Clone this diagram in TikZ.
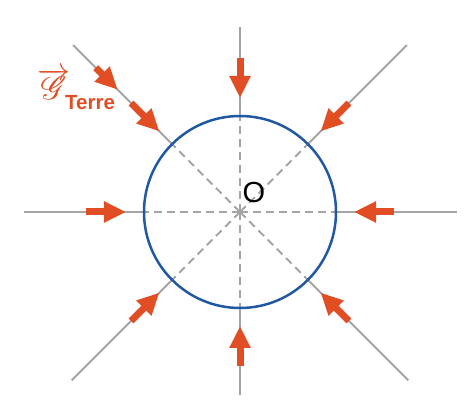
\documentclass[tikz,border=0pt]{standalone}
\usepackage{fontspec}
\setmainfont{Liberation Sans}
\usepackage{mathrsfs}
\usepackage{graphicx}
\usetikzlibrary{arrows.meta}
\definecolor{EarthBlue}{RGB}{32,88,164}
\definecolor{RayGray}{RGB}{165,165,165}
\definecolor{GravRed}{RGB}{226,78,36}

\begin{document}
\begin{tikzpicture}[x=1pt,y=1pt,
  ray/.style={RayGray,line width=2pt},
  inray/.style={ray,dash pattern=on 8pt off 5pt},
  grav/.style={GravRed,line width=7pt,-{Triangle[length=22pt,width=20pt]}},
  lbl/.style={text=GravRed,inner sep=0pt}
]
\useasboundingbox (-240,-191) rectangle (225,212);
\coordinate (O) at (0,0);
\foreach \a/\len in {0/217,45/236,90/185,135/236,180/216,225/238,270/183,315/238}{
  \coordinate (e\a) at (\a:\len);
  \coordinate (c\a) at (\a:96);
  \coordinate (t\a) at (\a:154);
  \coordinate (h\a) at (\a:114);
  \draw[inray] (O) -- (c\a);
  \draw[ray] (c\a) -- (e\a);
  \draw[grav] (t\a) -- (h\a);
}
\coordinate (t2) at (135:204);
\coordinate (h2) at (135:173);
\draw[grav] (t2) -- (h2);
\draw[EarthBlue,line width=2.5pt] (O) circle (96);
\node[inner sep=0pt] (o) at (14,19) {\scalebox{2.9}{O}};
\node[lbl,anchor=base west] (gterre) at (-203,112) {\scalebox{3.3}{$\overrightarrow{\mathscr{G}}$}\kern-5pt\raisebox{-10pt}{\scalebox{2.05}{\bfseries Terre}}};
\end{tikzpicture}
\end{document}
